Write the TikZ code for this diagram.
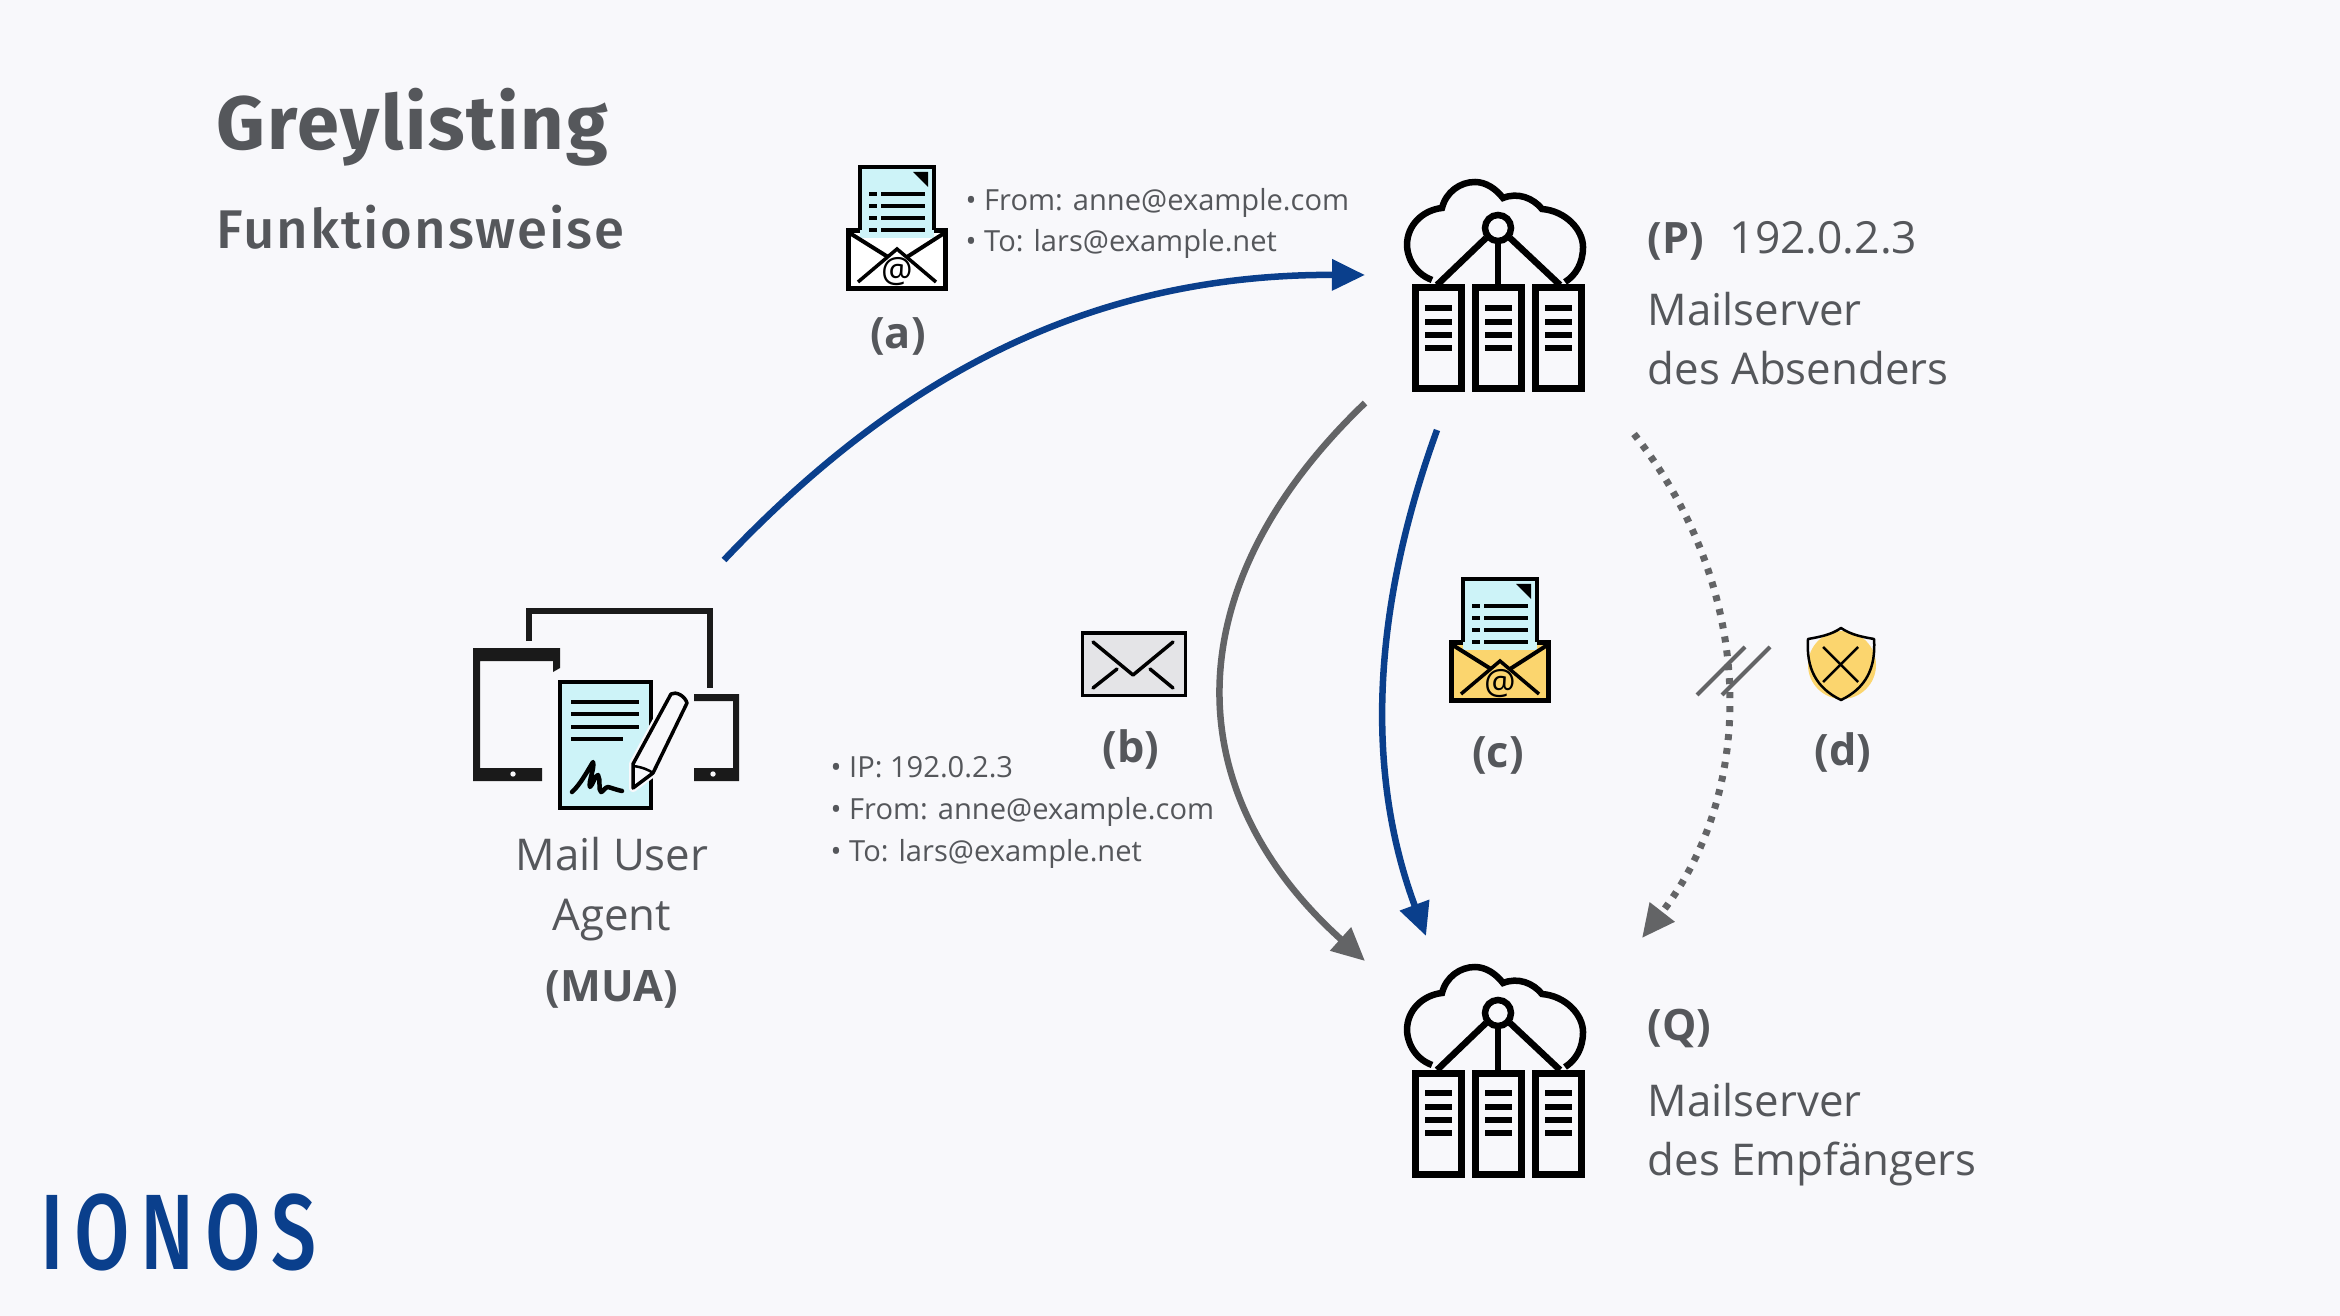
\documentclass[tikz,border=0pt]{standalone}
\usepackage{fontspec}
\setmainfont{Open Sans}
\newfontfamily\headfont{Fira Sans}
\newfontfamily\headmedium{Fira Sans Medium}
\usetikzlibrary{arrows.meta}
\definecolor{pagebg}{HTML}{F8F8FB}
\definecolor{bodytext}{HTML}{55575B}
\definecolor{bluearrow}{HTML}{0A3F8C}
\definecolor{greyarrow}{HTML}{636466}
\definecolor{docblue}{HTML}{CDF3F8}
\definecolor{mailyellow}{HTML}{FBD56E}
\definecolor{mailgrey}{HTML}{E4E4E7}
\definecolor{iconblack}{HTML}{1A1A1A}

\tikzset{
  pics/servericon/.style={code={
    % boxes and their bars
    \foreach \bx in {-82.5,-22.5,37.5} {
      \draw[line width=0.07cm] (\bx,3) rectangle ++(46,101);
      \foreach \by in {23,37,50,63}
        \draw[line width=0.06cm] (\bx+9.5,\by) -- ++(27,0);
    }
    % cloud
    \draw[line width=0.065cm] (-66,-5) .. controls (-85,-12) and (-91,-30) .. (-91,-40)
      .. controls (-91,-60) and (-75,-75) .. (-56,-77)
      .. controls (-52,-93) and (-38,-103) .. (-23,-103)
      .. controls (-12,-103) and (-2,-96) .. (5,-87)
      .. controls (20,-93) and (35,-87) .. (44,-76)
      .. controls (68,-74) and (85,-55) .. (85,-38)
      .. controls (85,-22) and (78,-10) .. (67,-3);
    % hub
    \draw[line width=0.065cm] (0,-57) circle (13);
    \draw[line width=0.065cm] (-12,-47) -- (-61,0);
    \draw[line width=0.065cm] (0,-44) -- (0,0);
    \draw[line width=0.065cm] (12,-47) -- (62,0);
  }},
  pics/mailicon/.style={code={
    \draw[line width=0.05cm,fill=#1] (-48.5,-29.5) rectangle (48.5,28.5);
    \fill[docblue] (-37,-93) rectangle (37,-22);
    \draw[line width=0.04cm] (-37,-30) -- (-37,-93) -- (37,-93) -- (37,-30);
    \fill (16,-88) -- (31,-88) -- (31,-73) -- cycle;
    \foreach \ly in {-66,-54,-42,-30} {
      \draw[line width=0.04cm] (-28,\ly) -- ++(8,0);
      \draw[line width=0.04cm] (-16,\ly) -- ++(44,0);
    }
    \draw[line width=0.04cm] (-49,-28) -- (-9,-3);
    \draw[line width=0.04cm] (49,-28) -- (10,-3);
    \draw[line width=0.035cm] (-39,22) -- (0,-11) -- (39,22);
    \node[inner sep=0pt,font=\fontsize{10}{11}\selectfont] (sign) at (0,12) {@};
  }},
}

\begin{document}
\begin{tikzpicture}[%
  x=0.01cm, y=-0.01cm,
  >={Triangle[length=0.33cm,width=0.3cm]},
  flow/.style = {line width=0.065cm},
  plain/.style = {inner sep=0pt, anchor=base west, text=bodytext, font=\fontsize{12.45}{14}\selectfont},
  strong/.style = {plain, font=\fontsize{12.3}{14}\selectfont\bfseries},
  tiny/.style = {plain, font=\fontsize{8.27}{10}\selectfont},
  steplabel/.style = {strong, anchor=base},
]
  \fill[pagebg] (0,0) rectangle (2340,1316);
  \useasboundingbox (0,0) rectangle (2340,1316);

  \coordinate (Ma) at (724,560);
  \coordinate (Pa) at (1365,275);
  \coordinate (Pb) at (1365,403);
  \coordinate (Qb) at (1365,961);
  \coordinate (Pc) at (1437,430);
  \coordinate (Qc) at (1426,936);
  \coordinate (Pd) at (1634,434);
  \coordinate (Qd) at (1642,938);

  % heading
  \node[plain,font=\fontsize{21.5}{26}\selectfont\headfont\bfseries\addfontfeature{LetterSpace=2.4}] (title) at (216,150) {Greylisting};
  \node[plain,font=\fontsize{15.5}{18}\selectfont\headmedium\addfontfeature{LetterSpace=3.5}] (subtitle) at (216,249) {Funktionsweise};

  % arrows
  \draw[flow,bluearrow,->] (Ma) .. controls (890,385) and (1080,274) .. (Pa);
  \draw[flow,greyarrow,->] (Pb) .. controls (1175,585) and (1175,790) .. (Qb);
  \draw[flow,bluearrow,->] (Pc) .. controls (1368,620) and (1368,780) .. (Qc);
  \draw[line width=0.07cm,greyarrow,->,dash pattern=on 0.06cm off 0.08cm] (Pd) .. controls (1757,590) and (1757,790) .. (Qd);

  % interruption
  \draw[greyarrow,line width=0.04cm] (1697,695) -- (1745,647);
  \draw[greyarrow,line width=0.04cm] (1722,695) -- (1770,647);

  % servers
  \pic at (1498,285) {servericon};
  \pic at (1498,1070) {servericon};
  \node[strong] (Plabel) at (1647,254) {(P)};
  \node[plain,font=\fontsize{12.6}{15}\selectfont] (Pip) at (1729,254) {192.0.2.3};
  \node[plain] (Pname) at (1647,326) {Mailserver};
  \node[plain] (Pwho) at (1647,385) {des Absenders};
  \node[strong] (Qlabel) at (1647,1040) {(Q)};
  \node[plain] (Qname) at (1647,1116) {Mailserver};
  \node[plain] (Qwho) at (1647,1175) {des Empfängers};

  % step a
  \pic (mailA) at (897,260) {mailicon=white};
  \node[steplabel] (a) at (898,349) {(a)};
  \node[tiny] (afrom) at (965,211) {• From: anne@example.com};
  \node[tiny] (ato) at (965,252) {• To: lars@example.net};

  % step b
  \draw[line width=0.03cm,fill=mailgrey] (1082,633) rectangle (1185,695);
  \draw[line width=0.035cm,line cap=round,line join=round] (1093,642) -- (1133,675) -- (1173,642);
  \draw[line width=0.035cm,line cap=round] (1093,688) -- (1117,669);
  \draw[line width=0.035cm,line cap=round] (1173,688) -- (1150,669);
  \node[steplabel] (b) at (1131,762) {(b)};
  \node[tiny] (bip) at (830,777) {• IP: 192.0.2.3};
  \node[tiny] (bfrom) at (830,819) {• From: anne@example.com};
  \node[tiny] (bto) at (830,861) {• To: lars@example.net};

  % step c
  \pic (mailC) at (1500,672) {mailicon=mailyellow};
  \node[steplabel] (c) at (1498,767) {(c)};

  % step d
  \fill[mailyellow] (1842,665) circle (34);
  \draw[line width=0.025cm,line join=round] (1841,628) .. controls (1831,635) and (1819,637) .. (1808,639)
    .. controls (1806,668) and (1816,688) .. (1841,700)
    .. controls (1866,688) and (1876,668) .. (1874,639)
    .. controls (1863,637) and (1851,635) .. (1841,628) -- cycle;
  \draw[line width=0.025cm] (1823,647) -- (1858,682);
  \draw[line width=0.025cm] (1858,647) -- (1823,682);
  \node[steplabel] (d) at (1843,765) {(d)};

  % mail user agent
  \begin{scope}[iconblack]
    \draw[line width=0.065cm] (529,641) -- (529,611) -- (710,611) -- (710,688);
    \fill (473,648) -- (560,648) -- (560,668) -- (553,672) -- (553,661) -- (480,661)
      -- (480,768) -- (542,768) -- (542,781) -- (473,781) -- cycle;
    \fill (694,694) -- (739,694) -- (739,781) -- (694,781) -- (694,768) -- (733,768)
      -- (733,701) -- (694,701) -- cycle;
  \end{scope}
  \fill[pagebg] (513,774) circle (2.7);
  \fill[pagebg] (713,774) circle (2.7);
  \draw[line width=0.035cm,fill=docblue] (560,682) rectangle (651,808);
  \foreach \ly/\lx in {702/639,714/639,727/639,739/623}
    \draw[line width=0.035cm] (571,\ly) -- (\lx,\ly);
  \draw[line width=0.045cm,line cap=round,line join=round] (572,792)
    .. controls (580,785) and (588,770) .. (593,762)
    .. controls (595,768) and (588,782) .. (590,787)
    .. controls (593,785) and (595,775) .. (598,775)
    .. controls (601,780) and (598,790) .. (601,792)
    .. controls (603,792) and (605,787) .. (608,787)
    .. controls (612,788) and (617,790) .. (622,791);
  \draw[pagebg,line width=0.08cm,fill=pagebg,line join=round] (671,694) .. controls (676,691) and (685,696) .. (687,703)
    -- (653,773) -- (633,788) -- (633,764) -- cycle;
  \draw[line width=0.035cm,line join=round] (671,694) .. controls (676,691) and (685,696) .. (687,703)
    -- (653,773) -- (633,788) -- (633,764) -- cycle;
  \draw[line width=0.025cm] (633,766) .. controls (642,767) and (649,770) .. (653,773);
  \node[plain,anchor=base] (mua1) at (612,870) {Mail User};
  \node[plain,anchor=base] (mua2) at (612,930) {Agent};
  \node[strong,anchor=base] (mua3) at (612,1001) {(MUA)};

  % logo
  \node[inner sep=0pt,anchor=base west,text=bluearrow,font=\fontsize{30.5}{30}\selectfont\headmedium\addfontfeature{LetterSpace=13}] (logo) at (40,1269) {\scalebox{0.75}[1]{IONOS}};
\end{tikzpicture}
\end{document}
